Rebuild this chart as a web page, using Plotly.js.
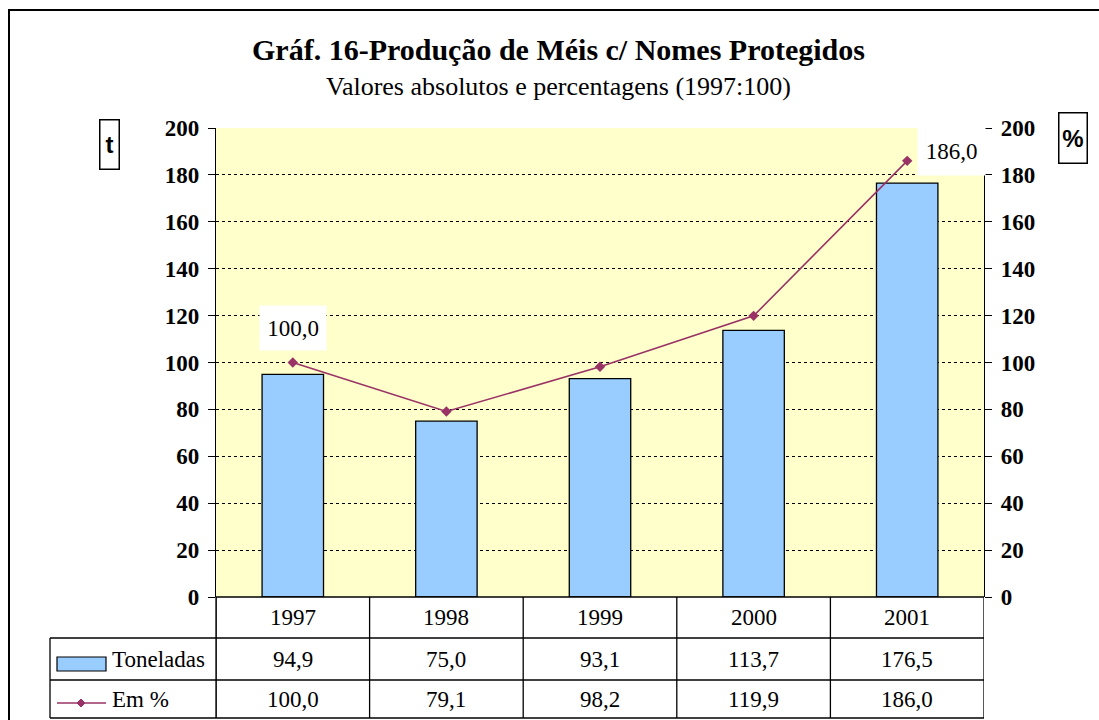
<!DOCTYPE html>
<html>
<head>
<meta charset="utf-8">
<script src="https://cdn.plot.ly/plotly-3.0.1.min.js"></script>
<style>html,body{margin:0;padding:0;background:#fff;}#chart{width:1099px;height:720px;}</style>
</head>
<body>
<div id="chart"></div>
<script>
// ---- data ----
const years = ['1997', '1998', '1999', '2000', '2001'];
const toneladas = [94.9, 75.0, 93.1, 113.7, 176.5];
const emPct = [100.0, 79.1, 98.2, 119.9, 186.0];
const seriesNames = ['Toneladas', 'Em %'];
const yTicks = [0, 20, 40, 60, 80, 100, 120, 140, 160, 180, 200];
const titleText = 'Gráf. 16-Produção de Méis c/ Nomes Protegidos';
const subtitleText = 'Valores absolutos e percentagens (1997:100)';

// ---- layout helpers (pixel -> paper) ----
const W = 1099, H = 720;
const L = 216, R = 984, T = 128, B = 597;
const X = px => (px - L) / (R - L);
const Y = py => (B - py) / (B - T);
const fmt = v => v.toFixed(1).replace('.', ',');

const serif = 'Liberation Serif';
const sans = 'Liberation Sans';
const barColor = '#99CCFF';
const lineColor = '#993366';

const traces = [
  {
    type: 'bar', name: seriesNames[0], x: years, y: toneladas,
    width: 0.4,
    marker: {color: barColor, line: {color: '#000', width: 1.3}},
    hoverinfo: 'x+y'
  },
  {
    type: 'scatter', mode: 'lines+markers', name: seriesNames[1], x: years, y: emPct,
    yaxis: 'y2',
    line: {color: lineColor, width: 1.6},
    marker: {symbol: 'diamond', size: 8, color: lineColor},
    hoverinfo: 'x+y'
  }
];

const shapes = [];
const annotations = [];
const line = (x0, y0, x1, y1, w) => shapes.push({type: 'line', xref: 'paper', yref: 'paper',
  x0: X(x0), y0: Y(y0), x1: X(x1), y1: Y(y1), line: {color: '#000', width: w || 1.3}, layer: 'above'});

// outer frame
shapes.push({type: 'rect', xref: 'paper', yref: 'paper', x0: X(9), y0: Y(10), x1: X(1110), y1: Y(740),
  line: {color: '#000', width: 2}, layer: 'above'});

// data table grid
line(L, 597, R, 597);
line(50, 638, R, 638);
line(50, 680, R, 680);
line(50, 718, R, 718);
line(50, 638, 50, 718);
line(L, 597, L, 718);
for (let i = 0; i <= years.length; i++) {
  const xc = i - 0.5;
  shapes.push({type: 'line', xref: 'x', yref: 'paper', x0: xc, x1: xc, y0: Y(597), y1: Y(718),
    line: {color: '#000', width: 1.3}, layer: 'above'});
}

// legend keys inside the table
shapes.push({type: 'rect', xref: 'paper', yref: 'paper', x0: X(57), x1: X(106), y0: Y(671), y1: Y(657),
  fillcolor: barColor, line: {color: '#000', width: 1.2}});
shapes.push({type: 'line', xref: 'paper', yref: 'paper', x0: X(57), x1: X(106), y0: Y(703), y1: Y(703),
  line: {color: lineColor, width: 1.4}});
const dc = [81, 703], ds = 4;
shapes.push({type: 'path', xref: 'paper', yref: 'paper',
  path: `M ${X(dc[0]-ds)} ${Y(dc[1])} L ${X(dc[0])} ${Y(dc[1]-ds)} L ${X(dc[0]+ds)} ${Y(dc[1])} L ${X(dc[0])} ${Y(dc[1]+ds)} Z`,
  fillcolor: lineColor, line: {color: lineColor, width: 1}});

const tFont = () => ({family: serif, size: 23, color: '#000'});
const rowMid = [(597 + 638) / 2, (638 + 680) / 2, (680 + 718) / 2];
const cell = (x, xref, py, text, xa) => annotations.push({xref: xref, yref: 'paper', x: x, y: Y(py),
  xanchor: xa || 'center', yanchor: 'middle', text: text, showarrow: false, font: tFont()});
years.forEach((yr, i) => {
  cell(i, 'x', rowMid[0], yr);
  cell(i, 'x', rowMid[1], fmt(toneladas[i]));
  cell(i, 'x', rowMid[2], fmt(emPct[i]));
});
cell(X(110), 'paper', rowMid[1], seriesNames[0], 'left');
cell(X(110), 'paper', rowMid[2], seriesNames[1], 'left');

// data labels (first and last point)
const last = years.length - 1;
annotations.push({xref: 'x', yref: 'y2', x: 0, y: emPct[0], yshift: 35, xanchor: 'center', yanchor: 'middle',
  text: fmt(emPct[0]), showarrow: false, font: tFont(), bgcolor: '#fff', width: 56, height: 34, borderpad: 5});
annotations.push({xref: 'x', yref: 'y2', x: last, y: emPct[last], xshift: 44, yshift: 10, xanchor: 'center', yanchor: 'middle',
  text: fmt(emPct[last]), showarrow: false, font: tFont(), bgcolor: '#fff', width: 57, height: 38, borderpad: 5});

// titles
annotations.push({xref: 'paper', yref: 'paper', x: X(558), y: Y(49), xanchor: 'center', yanchor: 'middle',
  text: '<b>' + titleText + '</b>', showarrow: false, font: {family: serif, size: 30, color: '#000'}});
annotations.push({xref: 'paper', yref: 'paper', x: X(558), y: Y(87), xanchor: 'center', yanchor: 'middle',
  text: subtitleText, showarrow: false, font: {family: serif, size: 26, color: '#000'}});

// unit boxes
annotations.push({xref: 'paper', yref: 'paper', x: X(109), y: Y(144), xanchor: 'center', yanchor: 'middle',
  text: '<b>t</b>', showarrow: false, font: {family: sans, size: 24, color: '#000'},
  width: 18, height: 48, bordercolor: '#000', borderwidth: 1.5, borderpad: 0});
annotations.push({xref: 'paper', yref: 'paper', x: X(1073), y: Y(138), xanchor: 'center', yanchor: 'middle',
  text: '<b>%</b>', showarrow: false, font: {family: sans, size: 24, color: '#000'},
  width: 27, height: 49, bordercolor: '#000', borderwidth: 1.5, borderpad: 0});

const yAxisCommon = {
  range: [0, 200], tickvals: yTicks, ticktext: yTicks.map(String),
  ticks: 'outside', ticklen: 7, tickwidth: 1.3, tickcolor: '#000',
  showline: true, linecolor: '#000', linewidth: 1.3,
  tickfont: {family: serif, size: 23, color: '#000', weight: 'bold'},
  zeroline: false, fixedrange: true
};

const layout = {
  width: W, height: H,
  margin: {l: L, r: W - R, t: T, b: H - B, pad: 0},
  paper_bgcolor: '#fff', plot_bgcolor: '#FFFFCC',
  showlegend: false,
  xaxis: {type: 'category', range: [-0.5, 4.5], showticklabels: false, ticks: '',
    showgrid: false, showline: false, zeroline: false, fixedrange: true},
  yaxis: Object.assign({}, yAxisCommon, {
    showgrid: true, gridcolor: '#000', gridwidth: 1, griddash: 'dot', ticklabelstandoff: 4
  }),
  yaxis2: Object.assign({}, yAxisCommon, {
    overlaying: 'y', side: 'right', showgrid: false, ticklabelstandoff: 4
  }),
  shapes: shapes,
  annotations: annotations
};

Plotly.newPlot('chart', traces, layout, {displayModeBar: false});
</script>
</body>
</html>
